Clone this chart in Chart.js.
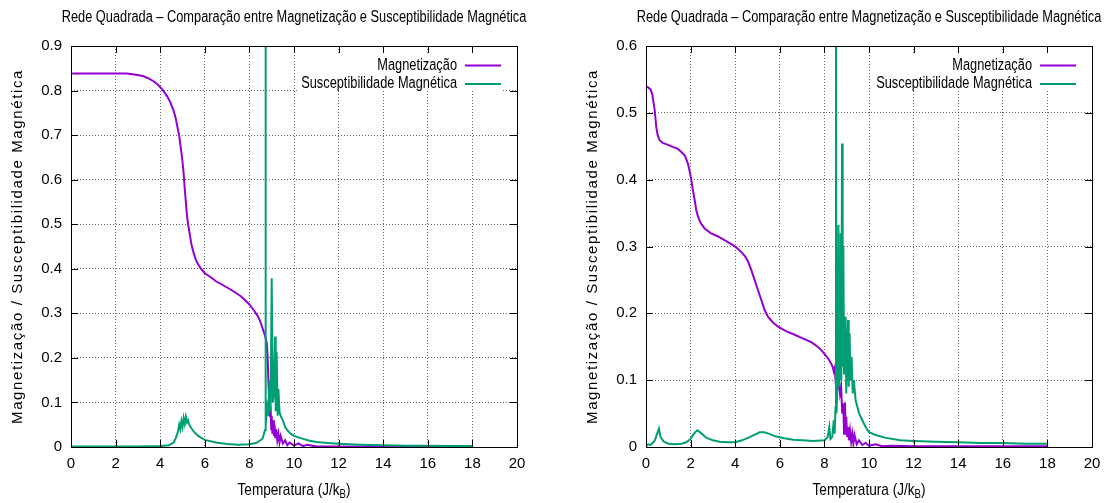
<!DOCTYPE html>
<html>
<head>
<meta charset="utf-8">
<script src="https://cdn.jsdelivr.net/npm/chart.js@4.4.1/dist/chart.umd.min.js"></script>
<style>
  html, body { margin: 0; padding: 0; background: #fff; }
  #wrap { position: relative; width: 1110px; height: 503px; }
  canvas { position: absolute; top: 0; }
  #c1 { left: 0; }
  #c2 { left: 555px; }
</style>
</head>
<body>
<div id="wrap">
  <canvas id="c1" width="555" height="503"></canvas>
  <canvas id="c2" width="555" height="503"></canvas>
</div>
<script>
// ---- left panel: magnetization
const tMagLeft = [0.05, 0.5, 1.0, 1.5, 2.0, 2.5, 3.0, 3.25, 3.5, 3.7, 3.9, 4.1, 4.3, 4.45, 4.6, 4.7, 4.8, 4.85, 4.9, 4.95,
  5.0, 5.05, 5.1, 5.15, 5.2, 5.25, 5.3, 5.4, 5.5, 5.6, 5.7, 5.8, 6.0, 6.3, 6.5, 7.0, 7.3, 7.6, 7.8, 8.0,
  8.2, 8.4, 8.5, 8.6, 8.7, 8.78, 8.82, 8.85, 8.88, 8.9, 8.92, 8.95, 8.98, 9.0, 9.03, 9.06, 9.1, 9.13, 9.16, 9.2,
  9.25, 9.3, 9.35, 9.4, 9.5, 9.6, 9.7, 9.8, 10.0, 10.2, 10.4, 10.6, 11, 12, 14, 16, 18]
const magLeft = [0.838, 0.838, 0.838, 0.838, 0.838, 0.838, 0.835, 0.832, 0.827, 0.821, 0.813, 0.802, 0.788, 0.774, 0.755, 0.737, 0.711, 0.70, 0.68, 0.662,
  0.64, 0.615, 0.58, 0.55, 0.52, 0.50, 0.485, 0.455, 0.435, 0.42, 0.41, 0.402, 0.39, 0.38, 0.372, 0.358, 0.349, 0.339, 0.33, 0.32,
  0.307, 0.292, 0.28, 0.265, 0.25, 0.233, 0.20, 0.15, 0.11, 0.13, 0.068, 0.09, 0.04, 0.07, 0.03, 0.06, 0.025, 0.05, 0.02, 0.04,
  0.015, 0.03, 0.01, 0.025, 0.008, 0.015, 0.004, 0.01, 0.003, 0.008, 0.002, 0.005, 0.001, 0.001, 0.0005, 0.0005, 0.0005]

// ---- left panel: susceptibility
const tSusLeft = [0.05, 1, 2, 3, 4, 4.4, 4.6, 4.7, 4.8, 4.85, 4.9, 4.95, 5.0, 5.05, 5.1, 5.15, 5.2, 5.25, 5.3, 5.4,
  5.5, 5.7, 6.0, 6.5, 7.0, 7.5, 8.0, 8.3, 8.5, 8.6, 8.7, 8.72, 8.74, 8.8, 8.85, 8.9, 8.95, 9.0, 9.05, 9.1,
  9.15, 9.18, 9.22, 9.27, 9.3, 9.35, 9.4, 9.5, 9.6, 9.7, 9.85, 10.0, 10.3, 10.7, 11.0, 11.8, 12.5, 13, 14, 15, 16, 17, 18]
const susLeft = [0.001, 0.001, 0.001, 0.001, 0.002, 0.004, 0.01, 0.02, 0.035, 0.05, 0.04, 0.058, 0.045, 0.065, 0.052, 0.068, 0.055, 0.06, 0.05, 0.042,
  0.035, 0.025, 0.016, 0.01, 0.007, 0.005, 0.006, 0.009, 0.015, 0.02, 0.038, 0.95, 0.05, 0.09, 0.07, 0.15, 0.08, 0.379, 0.1, 0.12,
  0.248, 0.08, 0.214, 0.07, 0.13, 0.079, 0.07, 0.06, 0.045, 0.038, 0.03, 0.025, 0.02, 0.014, 0.011, 0.008, 0.006, 0.005, 0.004, 0.003, 0.003, 0.002, 0.002]

// ---- right panel: magnetization
const tMagRight = [0.02, 0.1, 0.2, 0.28, 0.34, 0.39, 0.43, 0.46, 0.52, 0.61, 0.75, 0.99, 1.2, 1.43, 1.6, 1.74, 1.88, 1.96, 2.03, 2.1,
  2.18, 2.25, 2.33, 2.45, 2.63, 2.9, 3.23, 3.6, 3.9, 4.1, 4.27, 4.45, 4.57, 4.72, 4.87, 5.02, 5.17, 5.32, 5.47, 5.7,
  5.92, 6.3, 6.67, 7.0, 7.41, 7.7, 7.86, 8.01, 8.2, 8.31, 8.37, 8.42, 8.46, 8.5, 8.55, 8.6, 8.65, 8.7, 8.75, 8.8,
  8.85, 8.88, 8.92, 8.95, 8.98, 9.02, 9.06, 9.1, 9.15, 9.2, 9.25, 9.3, 9.35, 9.45, 9.55, 9.7, 9.85, 10.0, 10.3, 10.6,
  11, 12, 14, 16, 18]
const magRight = [0.539, 0.538, 0.535, 0.528, 0.515, 0.504, 0.49, 0.479, 0.467, 0.459, 0.455, 0.452, 0.449, 0.446, 0.441, 0.436, 0.424, 0.412, 0.40, 0.385,
  0.37, 0.355, 0.345, 0.335, 0.327, 0.32, 0.315, 0.308, 0.302, 0.297, 0.292, 0.285, 0.278, 0.265, 0.25, 0.235, 0.22, 0.205, 0.195, 0.186,
  0.18, 0.173, 0.168, 0.163, 0.157, 0.15, 0.145, 0.139, 0.131, 0.124, 0.12, 0.113, 0.118, 0.10, 0.11, 0.09, 0.1, 0.08, 0.09, 0.05,
  0.065, 0.02, 0.067, 0.03, 0.045, 0.015, 0.03, 0.01, 0.025, 0.008, 0.02, 0.005, 0.018, 0.004, 0.01, 0.003, 0.006, 0.002, 0.004, 0.001,
  0.002, 0.001, 0.001, 0.001, 0.001]

// ---- right panel: susceptibility
const tSusRight = [0.02, 0.1, 0.2, 0.3, 0.4, 0.5, 0.58, 0.65, 0.8, 1.0, 1.3, 1.6, 1.8, 2.0, 2.15, 2.3, 2.35, 2.5, 2.7, 3.0,
  3.3, 3.7, 4.0, 4.3, 4.6, 4.9, 5.1, 5.3, 5.5, 5.8, 6.2, 6.6, 7.0, 7.5, 8.0, 8.15, 8.22, 8.27, 8.35, 8.42,
  8.46, 8.5, 8.52, 8.54, 8.6, 8.63, 8.67, 8.7, 8.73, 8.76, 8.79, 8.82, 8.85, 8.88, 8.92, 8.95, 8.98, 9.02, 9.06, 9.09,
  9.13, 9.17, 9.22, 9.27, 9.32, 9.4, 9.48, 9.56, 9.7, 9.85, 10.0, 10.3, 10.7, 11.4, 12, 13, 14, 15, 16, 17, 18]
const susRight = [0.002, 0.004, 0.003, 0.006, 0.01, 0.02, 0.0275, 0.015, 0.008, 0.005, 0.004, 0.005, 0.007, 0.012, 0.02, 0.025, 0.024, 0.02, 0.014, 0.01,
  0.008, 0.007, 0.007, 0.01, 0.014, 0.019, 0.022, 0.022, 0.02, 0.016, 0.013, 0.011, 0.01, 0.009, 0.01, 0.015, 0.03, 0.012, 0.015, 0.04,
  0.02, 0.06, 0.65, 0.05, 0.1, 0.332, 0.09, 0.15, 0.32, 0.1, 0.454, 0.12, 0.30, 0.11, 0.16, 0.195, 0.08, 0.14, 0.19, 0.09,
  0.17, 0.1, 0.135, 0.08, 0.10, 0.07, 0.06, 0.05, 0.04, 0.03, 0.022, 0.018, 0.014, 0.01, 0.009, 0.008, 0.007, 0.006, 0.006, 0.005, 0.005]

const xMax = 20
const xStep = 2
const yStep = 0.1

const titleText = 'Rede Quadrada – Comparação entre Magnetização e Susceptibilidade Magnética'
const yTitle = 'Magnetização / Susceptibilidade Magnética'
const sans = '"Liberation Sans", Arial, sans-serif'

function pairs(xs, ys) {
  return xs.map((x, i) => ({ x: x, y: ys[i] }))
}

// gnuplot text is condensed; squeeze Liberation Sans horizontally
const squeeze = 0.8
function narrowText(ctx, text, x, y, size, align) {
  ctx.save()
  ctx.font = size + 'px ' + sans
  ctx.textAlign = align
  ctx.translate(x, y)
  ctx.scale(squeeze, 1)
  ctx.fillText(text, 0, 0)
  ctx.restore()
}
function narrowWidth(ctx, text, size) {
  ctx.font = size + 'px ' + sans
  return ctx.measureText(text).width * squeeze
}

// frame, inward ticks, key, title and axis labels
const gnuplotDecor = {
  id: 'gnuplotDecor',
  afterDatasetsDraw(chart) {
    const { ctx, chartArea: a, scales } = chart
    ctx.save()
    ctx.strokeStyle = '#000'
    ctx.lineWidth = 1
    ctx.beginPath()
    for (const t of scales.x.ticks) {
      const px = Math.round(scales.x.getPixelForValue(t.value)) + 0.5
      ctx.moveTo(px, a.bottom); ctx.lineTo(px, a.bottom - 7)
      ctx.moveTo(px, a.top); ctx.lineTo(px, a.top + 7)
    }
    for (const t of scales.y.ticks) {
      const py = Math.round(scales.y.getPixelForValue(t.value)) + 0.5
      ctx.moveTo(a.left, py); ctx.lineTo(a.left + 7, py)
      ctx.moveTo(a.right, py); ctx.lineTo(a.right - 7, py)
    }
    ctx.stroke()
    ctx.strokeRect(Math.round(a.left) + 0.5, Math.round(a.top) + 0.5,
      Math.round(a.right - a.left), Math.round(a.bottom - a.top))

    // key
    const sets = chart.data.datasets
    const textRight = a.right - 60
    const widest = Math.max(...sets.map(d => narrowWidth(ctx, d.label, 16)))
    ctx.fillStyle = '#fff'
    ctx.fillRect(textRight - widest - 4, a.top + 8, widest + 50, 37)
    ctx.textBaseline = 'middle'
    sets.forEach((d, i) => {
      const y = a.top + 19.5 + i * 18.5
      ctx.fillStyle = '#000'
      narrowText(ctx, d.label, textRight, y, 16, 'right')
      ctx.strokeStyle = d.borderColor
      ctx.lineWidth = 2
      ctx.beginPath()
      ctx.moveTo(a.right - 52, y)
      ctx.lineTo(a.right - 16, y)
      ctx.stroke()
    })

    // title
    const cx = (a.left + a.right) / 2
    ctx.fillStyle = '#000'
    narrowText(ctx, titleText, cx, 18, 16, 'center')

    // x label with subscript
    const main = 'Temperatura (J/k'
    const w1 = narrowWidth(ctx, main, 17)
    const w2 = narrowWidth(ctx, 'B', 12)
    const w3 = narrowWidth(ctx, ')', 17)
    const x0 = cx - (w1 + w2 + w3) / 2
    narrowText(ctx, main, x0, 490, 17, 'left')
    narrowText(ctx, 'B', x0 + w1, 495, 12, 'left')
    narrowText(ctx, ')', x0 + w1 + w2, 490, 17, 'left')

    // y label, spaced out to the reference length
    ctx.translate(a.left - 53, (a.top + a.bottom) / 2)
    ctx.rotate(-Math.PI / 2)
    ctx.font = '15px ' + sans
    const wy = ctx.measureText(yTitle).width
    ctx.letterSpacing = ((355 - wy) / yTitle.length).toFixed(2) + 'px'
    ctx.textAlign = 'center'
    ctx.fillText(yTitle, 0, 0)
    ctx.restore()
  }
}

function makeChart(id, magT, mag, susT, sus, yMax, yWidth, rightPad) {
  const tickFont = { family: sans, size: 15 }
  return new Chart(document.getElementById(id), {
    type: 'line',
    data: {
      datasets: [{
        label: 'Magnetização',
        data: pairs(magT, mag),
        borderColor: '#9400d3',
        borderWidth: 2,
        pointRadius: 0,
        tension: 0,
        order: 2
      }, {
        label: 'Susceptibilidade Magnética',
        data: pairs(susT, sus),
        borderColor: '#009e73',
        borderWidth: 2,
        pointRadius: 0,
        tension: 0,
        order: 1
      }]
    },
    options: {
      responsive: false,
      animation: false,
      layout: { padding: { left: 0, top: 46, right: rightPad, bottom: 0 } },
      plugins: {
        legend: { display: false },
        tooltip: { enabled: false },
        title: { display: false }
      },
      scales: {
        x: {
          type: 'linear',
          min: 0,
          max: xMax,
          ticks: { stepSize: xStep, color: '#000', font: tickFont, padding: 8, maxRotation: 0 },
          grid: { color: 'rgba(0,0,0,0.6)', drawTicks: false },
          border: { display: false, dash: [1, 2] },
          afterFit: s => { s.height = 56 }
        },
        y: {
          min: 0,
          max: yMax,
          ticks: { stepSize: yStep, color: '#000', font: tickFont, padding: 9 },
          grid: { color: 'rgba(0,0,0,0.6)', drawTicks: false },
          border: { display: false, dash: [1, 2] },
          afterFit: s => { s.width = yWidth }
        }
      }
    },
    plugins: [gnuplotDecor]
  })
}

makeChart('c1', tMagLeft, magLeft, tSusLeft, susLeft, 0.9, 71, 38)
makeChart('c2', tMagRight, magRight, tSusRight, susRight, 0.6, 91, 18)
</script>
</body>
</html>
